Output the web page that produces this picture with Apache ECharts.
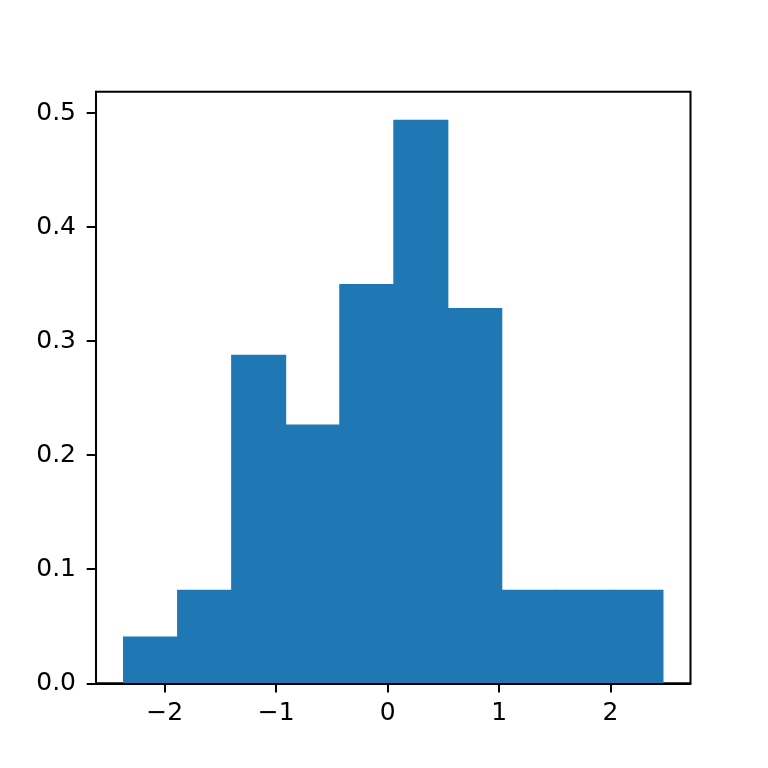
<!DOCTYPE html>
<html>
<head>
<meta charset="utf-8">
<script src="https://cdn.jsdelivr.net/npm/echarts@6/dist/echarts.min.js"></script>
<style>
  html, body { margin: 0; padding: 0; background: #fff; }
  #chart { width: 768px; height: 768px; }
</style>
</head>
<body>
<div id="chart"></div>
<script>
// histogram bin edges (11 edges -> 10 bins)
var binEdges = [-2.374, -1.889, -1.404, -0.919, -0.434, 0.051, 0.536, 1.020, 1.505, 1.990, 2.475];
// density of each bin
var density = [0.041, 0.082, 0.288, 0.227, 0.350, 0.494, 0.329, 0.082, 0.082, 0.082];
// tick labels
var xTicks = [-2, -1, 0, 1, 2];
var yTicks = [0, 0.1, 0.2, 0.3, 0.4, 0.5];

// matplotlib style 5% margins
var span = binEdges[binEdges.length - 1] - binEdges[0];
var xMin = binEdges[0] - 0.05 * span;
var xMax = binEdges[binEdges.length - 1] + 0.05 * span;
var yMax = Math.max.apply(null, density) * 1.05;

var bins = [];
for (var i = 0; i < density.length; i++) {
    bins.push([binEdges[i], binEdges[i + 1], density[i]]);
}

var font = 'DejaVu Sans';

var chart = echarts.init(document.getElementById('chart'));
chart.setOption({
    animation: false,
    grid: {
        left: 96,
        right: 77.5,
        top: 91.7,
        bottom: 84.7,
        show: true,
        borderColor: '#000',
        borderWidth: 2,
        backgroundColor: '#fff'
    },
    xAxis: {
        type: 'value',
        min: xMin,
        max: xMax,
        z: 3,
        splitLine: { show: false },
        axisLine: { show: true, onZero: false, lineStyle: { color: '#000', width: 2 } },
        axisTick: { show: true, length: 9.3, lineStyle: { color: '#000', width: 2 }, customValues: xTicks },
        axisLabel: {
            color: '#000',
            fontFamily: font,
            fontSize: 25,
            margin: 18,
            customValues: xTicks,
            formatter: function (v) {
                return String(v).replace('-', '\u2212');
            }
        }
    },
    yAxis: {
        type: 'value',
        min: 0,
        max: yMax,
        z: 3,
        splitLine: { show: false },
        axisLine: { show: true, onZero: false, lineStyle: { color: '#000', width: 2 } },
        axisTick: { show: true, length: 9.3, lineStyle: { color: '#000', width: 2 }, customValues: yTicks },
        axisLabel: {
            color: '#000',
            fontFamily: font,
            fontSize: 25,
            margin: 20,
            customValues: yTicks,
            formatter: function (v) {
                return v.toFixed(1);
            }
        }
    },
    series: [{
        type: 'custom',
        data: bins,
        encode: { x: [0, 1], y: 2 },
        renderItem: function (params, api) {
            var p0 = api.coord([api.value(0), 0]);
            var p1 = api.coord([api.value(1), api.value(2)]);
            // overlap the next bin by 1px so no seam shows between bins
            var pad = params.dataIndex < density.length - 1 ? 1 : 0;
            return {
                type: 'rect',
                shape: {
                    x: p0[0],
                    y: p1[1],
                    width: p1[0] - p0[0] + pad,
                    height: p0[1] - p1[1]
                },
                style: { fill: '#1f77b4' }
            };
        }
    }]
});
</script>
</body>
</html>
